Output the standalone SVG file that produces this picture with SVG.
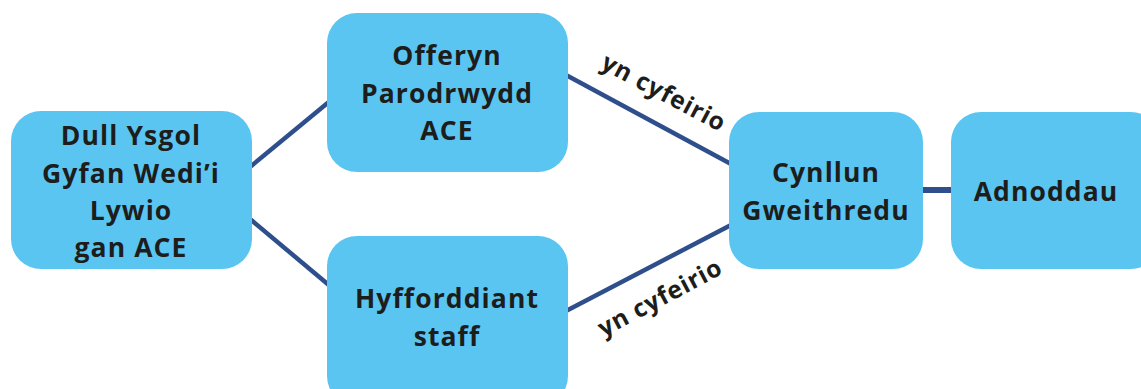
<svg xmlns="http://www.w3.org/2000/svg" width="1141" height="389" viewBox="0 0 1141 389">
<style>
.box{fill:#5bc5f2;}
.t{font-family:"Open Sans","Liberation Sans",sans-serif;font-weight:bold;font-size:26.5px;letter-spacing:1.1px;fill:#1d1d1b;text-anchor:middle;}
.l{font-family:"Open Sans","Liberation Sans",sans-serif;font-weight:bold;font-size:24.5px;letter-spacing:0.8px;fill:#1d1d1b;text-anchor:middle;}
.c{stroke:#2f4f8c;stroke-width:4.5;fill:none;}
</style>
<rect width="1141" height="389" fill="#ffffff"/>
<g id="connectors">
<line class="c" x1="250" y1="167" x2="330" y2="101"/>
<line class="c" x1="250" y1="219" x2="330" y2="286"/>
<line class="c" x1="566" y1="75" x2="731" y2="164"/>
<line class="c" x1="566" y1="311" x2="731" y2="225"/>
<line class="c" x1="921" y1="190" x2="953" y2="190" style="stroke-width:6"/>
<text class="l" x="660" y="100" transform="rotate(28 660 100)">yn cyfeirio</text>
<text class="l" x="664" y="305" transform="rotate(-28 664 305)">yn cyfeirio</text>
</g>
<g id="node-dull">
<rect class="box" x="11" y="111" width="241" height="158" rx="30"/>
<text class="t" x="131" y="145">Dull Ysgol</text>
<text class="t" x="131" y="183">Gyfan Wedi’i</text>
<text class="t" x="131" y="220">Lywio</text>
<text class="t" x="131" y="257">gan ACE</text>
</g>
<g id="node-offeryn">
<rect class="box" x="327" y="13" width="241" height="159" rx="30"/>
<text class="t" x="447" y="65">Offeryn</text>
<text class="t" x="447" y="103">Parodrwydd</text>
<text class="t" x="447" y="140">ACE</text>
</g>
<g id="node-hyfforddiant">
<rect class="box" x="327" y="236" width="241" height="170" rx="30"/>
<text class="t" x="447" y="308">Hyfforddiant</text>
<text class="t" x="447" y="346">staff</text>
</g>
<g id="node-cynllun">
<rect class="box" x="729" y="112" width="194" height="157" rx="30"/>
<text class="t" x="826" y="182">Cynllun</text>
<text class="t" x="826" y="220">Gweithredu</text>
</g>
<g id="node-adnoddau">
<rect class="box" x="951" y="112" width="210" height="157" rx="30"/>
<text class="t" x="1046" y="201">Adnoddau</text>
</g>
</svg>
